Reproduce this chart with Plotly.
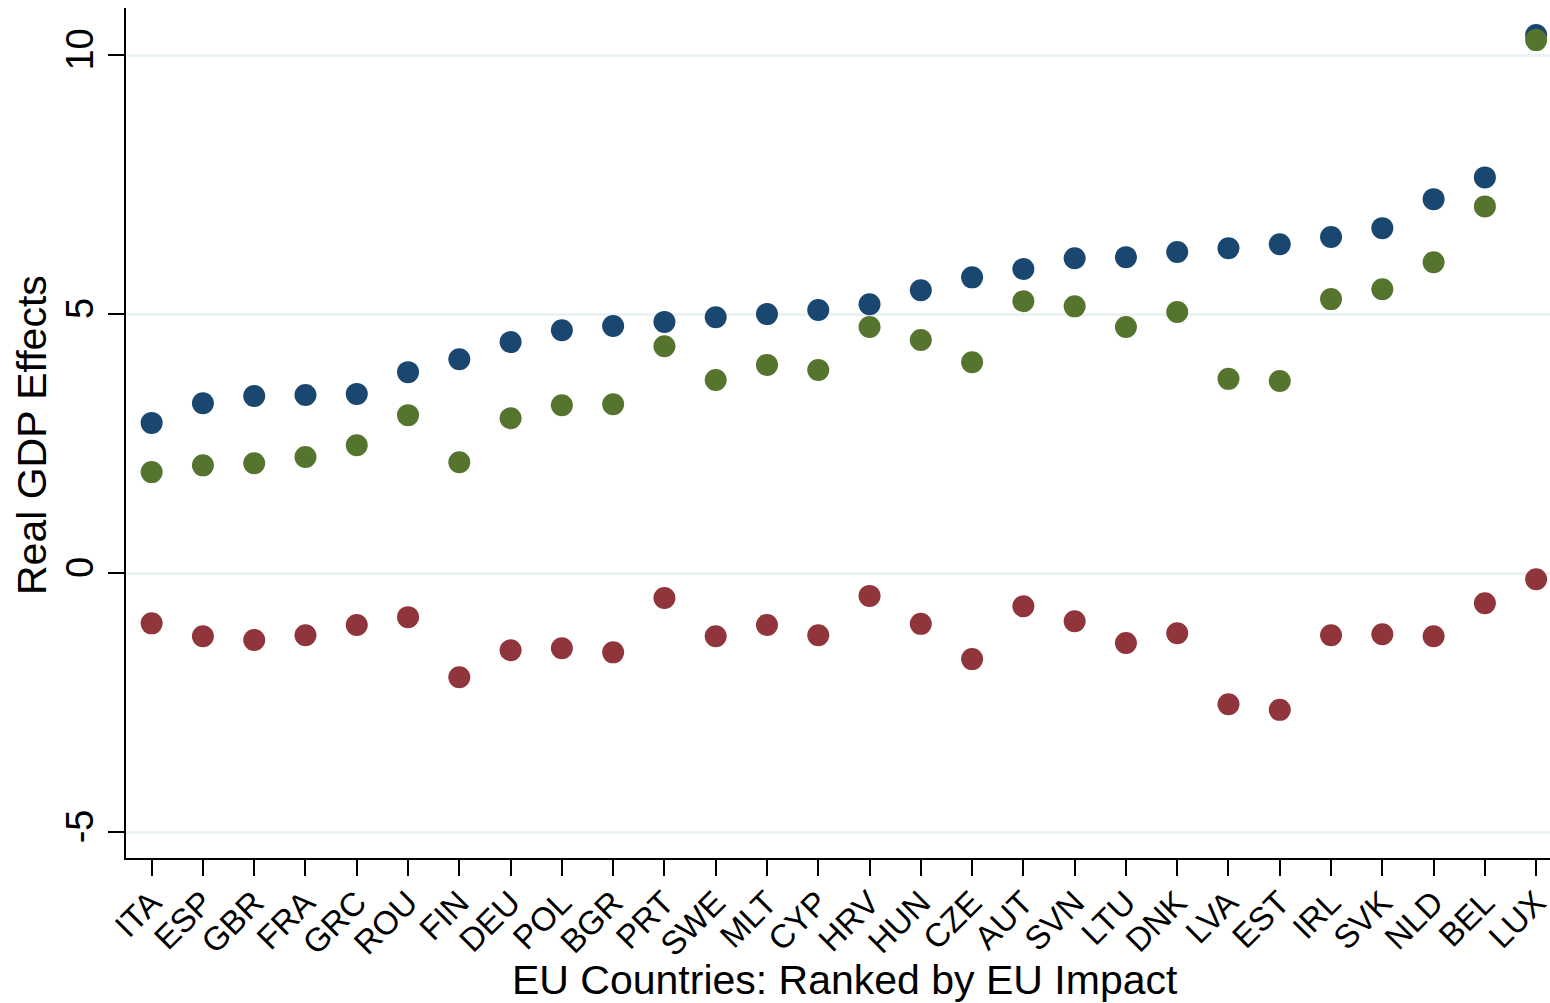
import plotly.graph_objects as go

# Countries ordered by the size of the EU impact
countries = ["ITA", "ESP", "GBR", "FRA", "GRC", "ROU", "FIN", "DEU", "POL", "BGR",
             "PRT", "SWE", "MLT", "CYP", "HRV", "HUN", "CZE", "AUT", "SVN", "LTU",
             "DNK", "LVA", "EST", "IRL", "SVK", "NLD", "BEL", "LUX"]

eu_impact = [2.90, 3.28, 3.42, 3.44, 3.46, 3.88, 4.13, 4.46, 4.69, 4.77,
             4.85, 4.94, 5.00, 5.08, 5.19, 5.46, 5.71, 5.87, 6.08, 6.10,
             6.20, 6.27, 6.35, 6.49, 6.66, 7.22, 7.64, 10.39]

green_effect = [1.95, 2.08, 2.12, 2.24, 2.47, 3.05, 2.14, 2.99, 3.24, 3.26,
                4.38, 3.73, 4.02, 3.92, 4.75, 4.50, 4.07, 5.25, 5.15, 4.75,
                5.04, 3.75, 3.71, 5.29, 5.48, 6.00, 7.08, 10.29]

red_effect = [-0.97, -1.22, -1.29, -1.20, -1.00, -0.85, -2.01, -1.49, -1.45, -1.53,
              -0.48, -1.22, -1.00, -1.20, -0.44, -0.98, -1.66, -0.64, -0.93, -1.35,
              -1.16, -2.53, -2.64, -1.20, -1.18, -1.22, -0.58, -0.12]

y_ticks = [-5, 0, 5, 10]

NAVY = "#1a476f"
GREEN = "#55752f"
MAROON = "#90353b"

xpos = list(range(len(countries)))

fig = go.Figure()
for vals, col in [(eu_impact, NAVY), (green_effect, GREEN), (red_effect, MAROON)]:
    fig.add_trace(go.Scatter(
        x=xpos, y=vals, mode="markers",
        marker=dict(size=22, color=col, line=dict(width=0)),
        showlegend=False, hoverinfo="skip",
    ))

fig.update_layout(
    width=1550, height=1003,
    margin=dict(l=126, r=0, t=8, b=145, autoexpand=False),
    paper_bgcolor="white", plot_bgcolor="white",
    font=dict(family="Liberation Sans, Arial, sans-serif", color="black"),
    showlegend=False,
)

fig.update_xaxes(
    range=[-0.5, 27.27],
    tickmode="array", tickvals=xpos, ticktext=countries,
    tickangle=-45, tickfont=dict(size=33),
    ticklabeloverflow="allow", ticklabelstandoff=-6, automargin=False,
    ticks="outside", ticklen=16, tickwidth=2, tickcolor="black",
    showline=True, linewidth=2, linecolor="black",
    showgrid=False, zeroline=False,
)

fig.update_yaxes(
    range=[-5.5, 10.91], automargin=False,
    tickmode="array", tickvals=y_ticks, ticktext=[str(v) for v in y_ticks],
    tickangle=-90, tickfont=dict(size=38),
    ticks="outside", ticklen=16, tickwidth=2, tickcolor="black",
    showline=True, linewidth=2, linecolor="black",
    showgrid=True, gridcolor="#eaf2f3", gridwidth=3, zeroline=False,
)

fig.add_annotation(
    text="EU Countries: Ranked by EU Impact",
    xref="paper", yref="paper", x=(845 - 126) / 1424, y=-(980 - 858) / 850,
    showarrow=False, font=dict(size=41), xanchor="center", yanchor="middle",
)
fig.add_annotation(
    text="Real GDP Effects",
    xref="paper", yref="paper", x=-(126 - 32) / 1424, y=(858 - 435) / 850,
    showarrow=False, font=dict(size=41), textangle=-90,
    xanchor="center", yanchor="middle",
)

fig.write_html("out.html")
